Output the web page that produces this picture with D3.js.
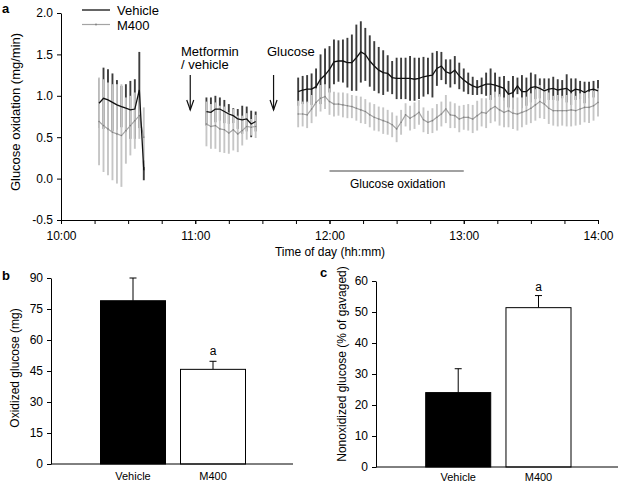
<!DOCTYPE html>
<html><head><meta charset="utf-8">
<script src="https://cdn.jsdelivr.net/npm/d3@7"></script>
<style>
body{margin:0;background:#fff}
svg{display:block}
text{font-family:Arial,"Liberation Sans",sans-serif;fill:#000}
</style>
</head><body>
<svg id="chart" width="620" height="484"></svg>
<script>
// ---------- Panel a data ----------
const t1 = ["10:17","10:19","10:21","10:23","10:25","10:27","10:29","10:31","10:33","10:35","10:37"];
const veh1 = [0.91,0.97,0.95,0.92,0.89,0.87,0.85,0.83,0.84,1.07,0.10];
const vehSd1 = [0.30,0.37,0.37,0.35,0.30,0.25,0.29,0.35,0.36,0.46,0.12];
const m4001 = [0.69,0.64,0.60,0.56,0.54,0.52,0.58,0.64,0.70,0.76,0.50];
const m400Sd1 = [0.53,0.56,0.56,0.58,0.60,0.62,0.40,0.36,0.34,0.28,0.36];

const t2 = ["11:05","11:07","11:09","11:11","11:13","11:15","11:17","11:19","11:21","11:23","11:25","11:27"];
const veh2 = [0.81,0.80,0.84,0.84,0.81,0.78,0.76,0.72,0.71,0.72,0.66,0.69];
const vehSd2 = [0.17,0.18,0.16,0.14,0.14,0.12,0.09,0.12,0.17,0.15,0.16,0.12];
const m4002 = [0.66,0.63,0.64,0.60,0.59,0.55,0.59,0.54,0.58,0.63,0.62,0.63];
const m400Sd2 = [0.27,0.27,0.28,0.28,0.28,0.25,0.25,0.22,0.18,0.16,0.10,0.14];

const t3 = ["11:46","11:48","11:50","11:52","11:54","11:56","11:58",
  "12:00","12:02","12:04","12:06","12:08","12:10","12:12","12:14","12:16","12:18",
  "12:20","12:22","12:24","12:26","12:28","12:30","12:32","12:34","12:36","12:38",
  "12:40","12:42","12:44","12:46","12:48","12:50","12:52","12:54","12:56","12:58",
  "13:00","13:02","13:04","13:06","13:08","13:10","13:12","13:14","13:16","13:18",
  "13:20","13:22","13:24","13:26","13:28","13:30","13:32","13:34","13:36","13:38",
  "13:40","13:42","13:44","13:46","13:48","13:50","13:52","13:54","13:56","13:58","14:00"];
const veh3 = [1.05,1.07,1.08,1.08,1.11,1.20,1.25,1.32,1.41,1.42,1.42,1.40,1.40,1.46,1.53,1.50,1.42,1.36,1.31,1.28,
  1.27,1.22,1.21,1.21,1.21,1.21,1.20,1.21,1.23,1.24,1.25,1.33,1.36,1.29,1.27,1.31,1.24,1.19,1.15,1.12,
  1.10,1.12,1.14,1.14,1.13,1.11,1.09,1.02,1.04,1.12,1.05,1.05,1.10,1.11,1.09,1.06,1.08,1.09,1.07,1.08,
  1.09,1.05,1.08,1.07,1.04,1.07,1.08,1.06];
const vehSd3 = [0.17,0.17,0.17,0.19,0.22,0.30,0.32,0.28,0.27,0.25,0.26,0.30,0.34,0.40,0.37,0.32,0.31,0.30,0.28,0.27,
  0.22,0.20,0.25,0.25,0.25,0.27,0.26,0.25,0.24,0.22,0.27,0.21,0.17,0.15,0.17,0.17,0.16,0.14,0.13,0.11,
  0.09,0.10,0.14,0.19,0.15,0.12,0.15,0.16,0.20,0.10,0.20,0.17,0.18,0.15,0.12,0.15,0.13,0.14,0.13,0.11,
  0.17,0.16,0.13,0.11,0.13,0.10,0.10,0.13];
const m4003 = [0.78,0.78,0.77,0.84,0.92,0.97,0.99,0.93,0.90,0.90,0.89,0.88,0.87,0.85,0.83,0.81,0.77,0.74,0.72,0.70,
  0.68,0.65,0.60,0.68,0.77,0.73,0.76,0.80,0.71,0.68,0.70,0.74,0.78,0.84,0.77,0.76,0.72,0.74,0.74,0.72,
  0.76,0.80,0.79,0.84,0.87,0.83,0.80,0.82,0.79,0.78,0.80,0.82,0.85,0.89,0.93,0.90,0.85,0.82,0.82,0.82,
  0.82,0.83,0.82,0.84,0.86,0.86,0.88,0.92];
const m400Sd3 = [0.16,0.15,0.16,0.17,0.17,0.16,0.15,0.16,0.15,0.14,0.15,0.15,0.14,0.15,0.16,0.15,0.15,0.16,0.15,0.16,
  0.15,0.15,0.16,0.15,0.14,0.15,0.16,0.15,0.15,0.14,0.15,0.16,0.15,0.17,0.16,0.15,0.16,0.15,0.16,0.17,
  0.18,0.17,0.18,0.17,0.18,0.19,0.18,0.20,0.19,0.20,0.18,0.17,0.18,0.19,0.20,0.18,0.19,0.18,0.19,0.18,
  0.19,0.20,0.18,0.19,0.18,0.19,0.18,0.17];

const yTicksA = [-0.5, 0.0, 0.5, 1.0, 1.5, 2.0];
const xLabelsA = ["10:00","11:00","12:00","13:00","14:00"];
const xMinorA = ["10:00","10:15","10:30","10:45","11:00","11:15","11:30","11:45","12:00","12:15","12:30","12:45",
  "13:00","13:15","13:30","13:45","14:00"];
const metforminTime = "11:00";
const glucoseTime = "11:35";
const oxidationPeriod = ["12:00","13:00"];
const seriesNames = ["Vehicle","M400"];

// ---------- Panels b, c data ----------
const groups = ["Vehicle","M400"];
const oxidized = [79.0, 45.8];
const oxidizedSd = [11.0, 3.9];
const yTicksB = [0,15,30,45,60,75,90];
const nonoxidized = [24.0, 51.4];
const nonoxidizedSd = [7.7, 3.9];
const yTicksC = [0,10,20,30,40,50,60];
const sigMark = ["", "a"];

// ---------- Setup ----------
const svg = d3.select("#chart");
svg.append("rect").attr("width",620).attr("height",484).attr("fill","#fff");
const parse = d3.timeParse("%H:%M");

const VEH_BAR = "#3d3d3d", M4_BAR = "#c6c6c6", M4_LINE = "#a4a4a4";

function styleAxis(g, fs){
  g.select(".domain").attr("stroke","#000").attr("stroke-width",1);
  g.selectAll(".tick line").attr("stroke","#000");
  g.selectAll(".tick text").attr("fill","#000").style("font-size",fs+"px")
    .style("font-family",'Arial,"Liberation Sans",sans-serif');
}

// ---------- Panel a ----------
const xA = d3.scaleTime().domain([parse("10:00"), parse("14:00")]).range([61, 598]);
const yA = d3.scaleLinear().domain([-0.5, 2.0]).range([220, 13]);

const segs = [
  {t:t1, v:veh1, vs:vehSd1, m:m4001, ms:m400Sd1},
  {t:t2, v:veh2, vs:vehSd2, m:m4002, ms:m400Sd2},
  {t:t3, v:veh3, vs:vehSd3, m:m4003, ms:m400Sd3}
].map(s => s.t.map((tt,i) => ({t:parse(tt), v:s.v[i], vs:s.vs[i], m:s.m[i], ms:s.ms[i]})));

const gA = svg.append("g");
segs.forEach(seg => {
  gA.append("g").selectAll("line").data(seg).join("line")
    .attr("x1", d=>xA(d.t)).attr("x2", d=>xA(d.t))
    .attr("y1", d=>yA(d.v - d.vs)).attr("y2", d=>yA(d.v + d.vs))
    .attr("stroke", VEH_BAR).attr("stroke-width", 1.9);
});
segs.forEach(seg => {
  gA.append("g").selectAll("line").data(seg).join("line")
    .attr("x1", d=>xA(d.t)).attr("x2", d=>xA(d.t))
    .attr("y1", d=>yA(d.m - d.ms)).attr("y2", d=>yA(d.m + d.ms))
    .attr("stroke", M4_BAR).attr("stroke-width", 1.9);
});
const lineM = d3.line().x(d=>xA(d.t)).y(d=>yA(d.m));
const lineV = d3.line().x(d=>xA(d.t)).y(d=>yA(d.v));
segs.forEach(seg => {
  gA.append("path").attr("d", lineM(seg)).attr("fill","none").attr("stroke", M4_LINE).attr("stroke-width",1.2);
  gA.append("g").selectAll("circle").data(seg).join("circle")
    .attr("cx", d=>xA(d.t)).attr("cy", d=>yA(d.m)).attr("r",0.8).attr("fill","#808080");
});
segs.forEach(seg => {
  gA.append("path").attr("d", lineV(seg)).attr("fill","none").attr("stroke", "#111").attr("stroke-width",1.3);
});

const yAxA = svg.append("g").attr("transform","translate(61,0)")
  .call(d3.axisLeft(yA).tickValues(yTicksA).tickFormat(d=>d.toFixed(1)).tickSize(4).tickSizeOuter(0).tickPadding(4));
styleAxis(yAxA, 12);
const xMinAx = svg.append("g").attr("transform","translate(0,220)")
  .call(d3.axisBottom(xA).tickValues(xMinorA.map(parse)).tickFormat("").tickSize(4).tickSizeOuter(0));
styleAxis(xMinAx, 12);
const xAxA = svg.append("g").attr("transform","translate(0,220)")
  .call(d3.axisBottom(xA).tickValues(xLabelsA.map(parse)).tickFormat(d3.timeFormat("%H:%M")).tickSize(4).tickSizeOuter(0).tickPadding(7));
styleAxis(xAxA, 12);

svg.append("text").attr("x", 330).attr("y", 256).attr("text-anchor","middle")
  .style("font-size","12px").text("Time of day (hh:mm)");
svg.append("text").attr("transform","translate(20,112) rotate(-90)").attr("text-anchor","middle")
  .style("font-size","13px").text("Glucose oxidation (mg/min)");
svg.append("text").attr("x",2).attr("y",13).style("font-size","13px").style("font-weight","bold").text("a");

// legend
svg.append("line").attr("x1",82).attr("x2",110).attr("y1",10).attr("y2",10).attr("stroke","#111").attr("stroke-width",1.3);
svg.append("text").attr("x",117).attr("y",14.5).style("font-size","13px").text(seriesNames[0]);
svg.append("line").attr("x1",82).attr("x2",110).attr("y1",24.5).attr("y2",24.5).attr("stroke",M4_LINE).attr("stroke-width",1.2);
svg.append("circle").attr("cx",96).attr("cy",24.5).attr("r",0.9).attr("fill","#808080");
svg.append("text").attr("x",117).attr("y",29.5).style("font-size","13px").text(seriesNames[1]);

// annotations
function arrow(x){
  svg.append("line").attr("x1",x).attr("x2",x).attr("y1",75).attr("y2",110).attr("stroke","#111").attr("stroke-width",1.2);
  svg.append("path").attr("d",`M${x-3.5},100 L${x},110 L${x+3.5},100`).attr("fill","none").attr("stroke","#111").attr("stroke-width",1.2);
}
const xMet = xA(parse(metforminTime)) - 5;
arrow(xMet);
svg.append("text").attr("x",181).attr("y",55.5).style("font-size","13px").text("Metformin");
svg.append("text").attr("x",181).attr("y",69).style("font-size","13px").text("/ vehicle");
const xGlu = xA(parse(glucoseTime));
arrow(xGlu);
svg.append("text").attr("x",267).attr("y",55.5).style("font-size","13px").text("Glucose");
svg.append("line").attr("x1",xA(parse(oxidationPeriod[0]))).attr("x2",xA(parse(oxidationPeriod[1])))
  .attr("y1",171).attr("y2",171).attr("stroke","#444").attr("stroke-width",1.2);
svg.append("text").attr("x",(xA(parse(oxidationPeriod[0]))+xA(parse(oxidationPeriod[1])))/2+1).attr("y",188)
  .attr("text-anchor","middle").style("font-size","12px").text("Glucose oxidation");

// ---------- Bar panel helper ----------
function barPanel(o){
  const y = d3.scaleLinear().domain([0, o.max]).range([o.y0, o.y1]);
  const x = d3.scaleBand().domain(groups).range([o.bx0, o.bx1]).paddingInner(o.padIn).paddingOuter(0);
  const g = svg.append("g");
  groups.forEach((k,i) => {
    const cx = x(k) + x.bandwidth()/2;
    g.append("line").attr("x1",cx).attr("x2",cx).attr("y1",y(o.vals[i])).attr("y2",y(o.vals[i]+o.sds[i]))
      .attr("stroke","#000").attr("stroke-width",1);
    g.append("line").attr("x1",cx-3.5).attr("x2",cx+3.5).attr("y1",y(o.vals[i]+o.sds[i])).attr("y2",y(o.vals[i]+o.sds[i]))
      .attr("stroke","#000").attr("stroke-width",1);
    if (sigMark[i]) g.append("text").attr("x",cx).attr("y",o.sigY).attr("text-anchor","middle")
      .style("font-size","12px").text(sigMark[i]);
  });
  g.selectAll("rect").data(groups).join("rect")
    .attr("x", k=>x(k)).attr("width", x.bandwidth())
    .attr("y", (k,i)=>y(o.vals[i])).attr("height", (k,i)=>o.y0 - y(o.vals[i]))
    .attr("fill", (k,i)=> i===0 ? "#000" : "#fff").attr("stroke","#000").attr("stroke-width",1);
  g.append("line").attr("x1",o.ax).attr("x2",o.axEnd).attr("y1",o.y0).attr("y2",o.y0).attr("stroke","#000");
  const ya = g.append("g").attr("transform",`translate(${o.ax},0)`)
    .call(d3.axisLeft(y).tickValues(o.ticks).tickSize(4).tickSizeOuter(0).tickPadding(4));
  styleAxis(ya, 12);
  const xa = g.append("g").attr("transform",`translate(0,${o.y0})`)
    .call(d3.axisBottom(x).tickSize(0).tickPadding(o.labPad));
  xa.select(".domain").remove();
  styleAxis(xa, 11);
  svg.append("text").attr("transform",`translate(${o.titleX},${o.titleY}) rotate(-90)`).attr("text-anchor","middle")
    .style("font-size","12px").text(o.title);
  svg.append("text").attr("x",o.lx).attr("y",o.ly).style("font-size","13px").style("font-weight","bold").text(o.label);
}

barPanel({max:90, y0:464, y1:278, bx0:100.5, bx1:245.5, padIn:0.1875, vals:oxidized, sds:oxidizedSd,
  ticks:yTicksB, ax:51, axEnd:293, sigY:355, labPad:8, title:"Oxidized glucose (mg)", titleX:19, titleY:368,
  label:"b", lx:2, ly:280});
barPanel({max:60, y0:467, y1:281, bx0:425.7, bx1:571, padIn:0.19, vals:nonoxidized, sds:nonoxidizedSd,
  ticks:yTicksC, ax:376, axEnd:618, sigY:291, labPad:6, title:"Nonoxidized glucose (% of gavaged)", titleX:346, titleY:364,
  label:"c", lx:320, ly:277});
</script>
</body></html>
